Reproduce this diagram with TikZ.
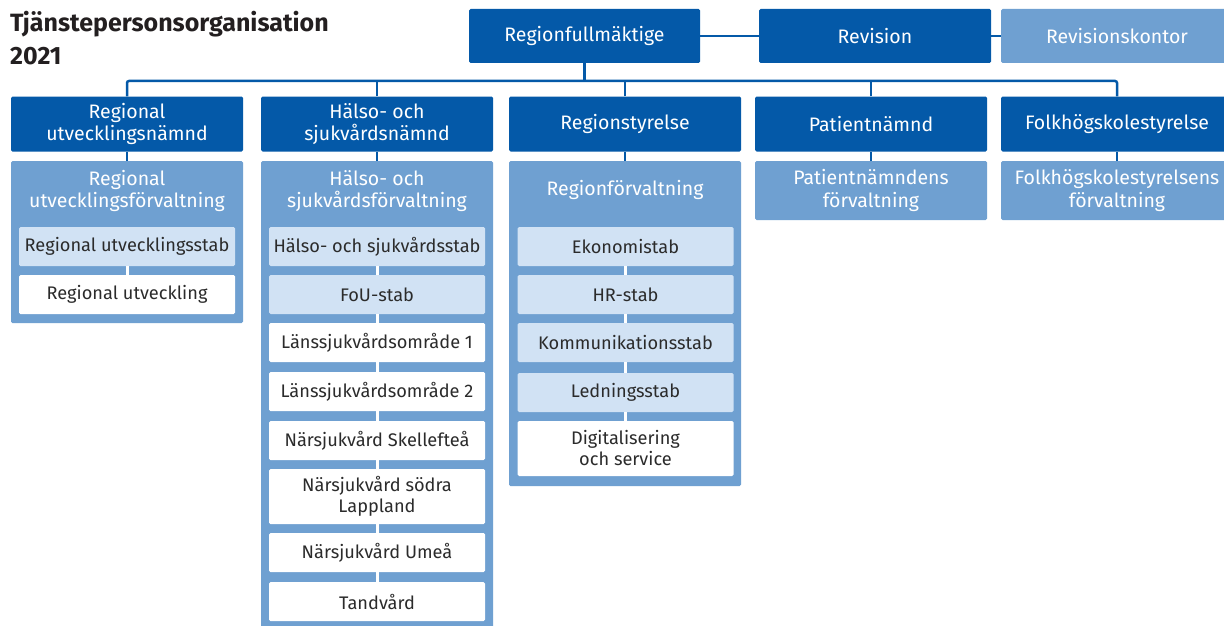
\documentclass[tikz,border=0pt]{standalone}
\usepackage{fontspec}
\setmainfont{Fira Sans}
\usepackage{tikz}
\usetikzlibrary{positioning}
\definecolor{navy}{HTML}{0459A8}
\definecolor{mid}{HTML}{6FA0D1}
\definecolor{pale}{HTML}{D1E2F4}
\definecolor{ink}{HTML}{2B2B2B}
\definecolor{head}{HTML}{231F20}
\tikzset{
  board/.style={rectangle, rounded corners=1.5pt, fill=navy, text=white, minimum width=232pt, minimum height=55pt, inner sep=0pt, align=center, font=\fontsize{19.5}{22}\selectfont},
  office/.style={rectangle, rounded corners=1.5pt, fill=mid, text=white, minimum width=232pt, inner sep=0pt, align=center, font=\fontsize{19.5}{22.5}\selectfont},
  officehead/.style={text=white, inner sep=0pt, align=center, font=\fontsize{19.5}{22.5}\selectfont},
  stab/.style={rectangle, rounded corners=1.5pt, fill=pale, text=ink, minimum width=216pt, minimum height=39pt, inner sep=0pt, align=center, font=\fontsize{18.2}{21}\selectfont},
  unit/.style={stab, fill=white},
  bus/.style={draw=navy, line width=2.5pt},
  link/.style={draw=white, line width=3pt},
}
\begin{document}
\begin{tikzpicture}[x=1pt, y=-1pt]
  \useasboundingbox (0,0) rectangle (1224,626);
  \fill[white] (0,0) rectangle (1224,626);

  \node[anchor=north west, align=left, text=head, inner sep=0pt, font=\bfseries\fontsize{25}{33}\selectfont] (title) at (10,11) {Tjänstepersonsorganisation\\2021};

  % top level
  \node[board, minimum width=231pt, minimum height=54pt] (fullm) at (584.5,36) {Regionfullmäktige};
  \node[board, minimum height=54pt] (rev) at (875,36) {Revision};
  \node[office, minimum height=54pt] (revk) at (1117,36) {Revisionskontor};
  \draw[bus] (fullm.east) -- (rev.west);
  \draw[bus] (rev.east) -- (revk.west);

  % committees
  \node[board] (rutn) at (127,124) {Regional\\utvecklingsnämnd};
  \node[board] (hsn) at (377,124) {Hälso- och\\sjukvårdsnämnd};
  \node[board] (rst) at (625,124) {Regionstyrelse};
  \node[board] (pn) at (871,124) {Patientnämnd};
  \node[board] (fhs) at (1117,124) {Folkhögskolestyrelse};

  \coordinate (bus) at (585,81);
  \draw[bus] (fullm.south) -- (fullm.south |- bus);
  \draw[bus, rounded corners=2pt] (rutn.north) -- (rutn.north |- bus) -- (fhs.north |- bus) -- (fhs.north);
  \foreach \n in {hsn,rst,pn}
    \draw[bus] (\n.north) -- (\n.north |- bus);

  % administrations
  \node[office, anchor=north, minimum height=162pt] (rutf) at (127,161) {};
  \node[office, anchor=north, minimum height=480pt] (hsf) at (377,161) {};
  \node[office, anchor=north, minimum height=325pt] (rf) at (625,161) {};
  \node[office, minimum height=59pt] (pnf) at (871,190.5) {Patientnämndens\\förvaltning};
  \node[office, minimum height=59pt] (fhsf) at (1117,190.5) {Folkhögskolestyrelsens\\förvaltning};
  \node[officehead] (rutfh) at (127,191) {Regional\\utvecklingsförvaltning};
  \node[officehead] (hsfh) at (377,191) {Hälso- och\\sjukvårdsförvaltning};
  \node[officehead] (rfh) at (625,190) {Regionförvaltning};

  \draw[bus] (rutn.south) -- (rutf.north);
  \draw[bus] (hsn.south) -- (hsf.north);
  \draw[bus] (rst.south) -- (rf.north);
  \draw[bus] (pn.south) -- (pnf.north);
  \draw[bus] (fhs.south) -- (fhsf.north);

  % regional utveckling
  \node[stab] (rus) at (127,246.5) {Regional utvecklingsstab};
  \node[unit] (ru) at (127,294.5) {Regional utveckling};

  % hälso- och sjukvård
  \node[stab] (hss) at (377,246.5) {Hälso- och sjukvårdsstab};
  \node[stab] (fou) at (377,294.5) {FoU-stab};
  \node[unit] (ls1) at (377,342.5) {Länssjukvårdsområde 1};
  \node[unit] (ls2) at (377,391.5) {Länssjukvårdsområde 2};
  \node[unit] (nske) at (377,440.5) {Närsjukvård Skellefteå};
  \node[unit, minimum height=55pt] (nsl) at (377,496.5) {Närsjukvård södra\\Lappland};
  \node[unit] (nume) at (377,552.5) {Närsjukvård Umeå};
  \node[unit] (tand) at (377,601.5) {Tandvård};

  % regionförvaltning
  \node[stab] (eko) at (625.5,246.5) {Ekonomistab};
  \node[stab] (hr) at (625.5,294.5) {HR-stab};
  \node[stab] (kom) at (625.5,342.5) {Kommunikationsstab};
  \node[stab] (led) at (625.5,392.5) {Ledningsstab};
  \node[unit, minimum height=55pt] (dig) at (625.5,448.5) {Digitalisering\\och service};

  \foreach \a/\b in {rus/ru, hss/fou, fou/ls1, ls1/ls2, ls2/nske, nske/nsl, nsl/nume, nume/tand, eko/hr, hr/kom, kom/led, led/dig}
    \draw[link] (\a.south) -- (\b.north);
\end{tikzpicture}
\end{document}
